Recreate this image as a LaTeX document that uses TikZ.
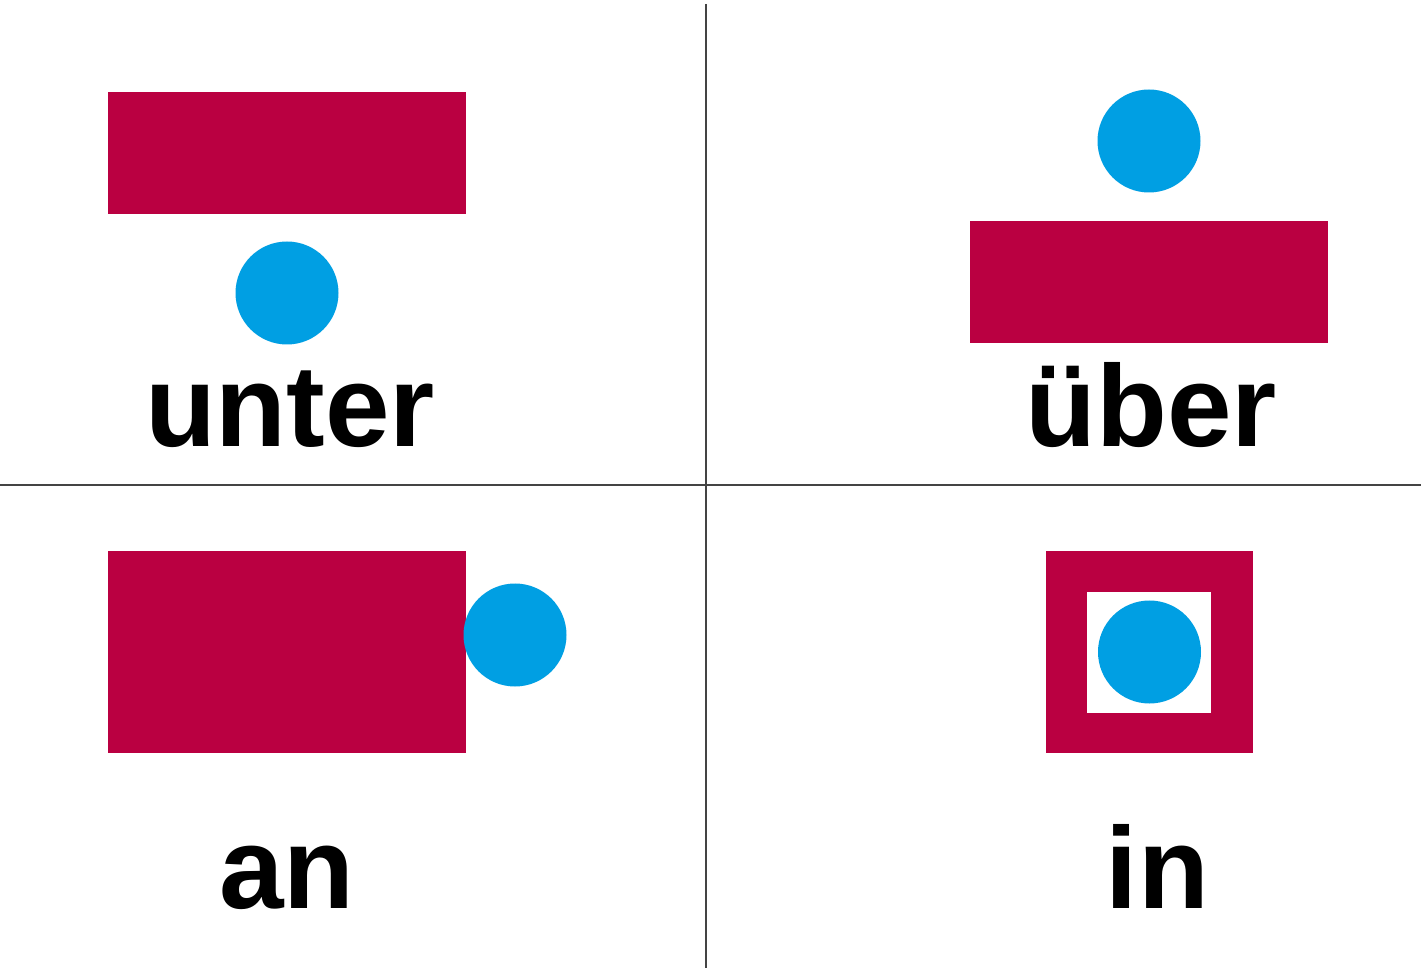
\documentclass[tikz,border=0pt]{standalone}
\usepackage{fontspec}
\setmainfont{Liberation Sans}
\definecolor{crimson}{HTML}{BA0041}
\definecolor{dotblue}{HTML}{009FE3}
\definecolor{rule}{HTML}{444444}
\tikzset{
  bar/.style={fill=crimson, draw=none},
  dot/.style={circle, fill=dotblue, draw=none, minimum size=51.5pt, inner sep=0pt},
  word/.style={anchor=base, inner sep=0pt, font=\fontsize{58}{60}\selectfont\bfseries},
  divider/.style={draw=rule, line width=1.1pt}
}
\begin{document}
\begin{tikzpicture}[x=0.5pt, y=-0.5pt]
\useasboundingbox (0,0) rectangle (1421,968);
\fill[white] (0,0) rectangle (1421,968);
% dividers
\coordinate (vt) at (706,4);
\coordinate (vb) at (706,968);
\coordinate (hl) at (0,485);
\coordinate (hr) at (1421,485);
\draw[divider] (vt) -- (vb);
\draw[divider] (hl) -- (hr);
% unter
\fill[bar] (108,92) rectangle (466,214);
\node[dot] (d1) at (287,293) {};
\node[word] (w1) at (290,447) {unter};
% über
\node[dot] (d2) at (1149,141) {};
\fill[bar] (970,221) rectangle (1328,343);
\node[word] (w2) at (1151,447) {über};
% an
\fill[bar] (108,551) rectangle (466,753);
\node[dot] (d3) at (515,635) {};
\node[word] (w3) at (287,908) {an};
% in
\fill[bar] (1046,551) rectangle (1253,753);
\fill[white] (1087,592) rectangle (1211,713);
\node[dot] (d4) at (1149.5,652) {};
\node[word] (w4) at (1157.5,908) {in};
\end{tikzpicture}
\end{document}
